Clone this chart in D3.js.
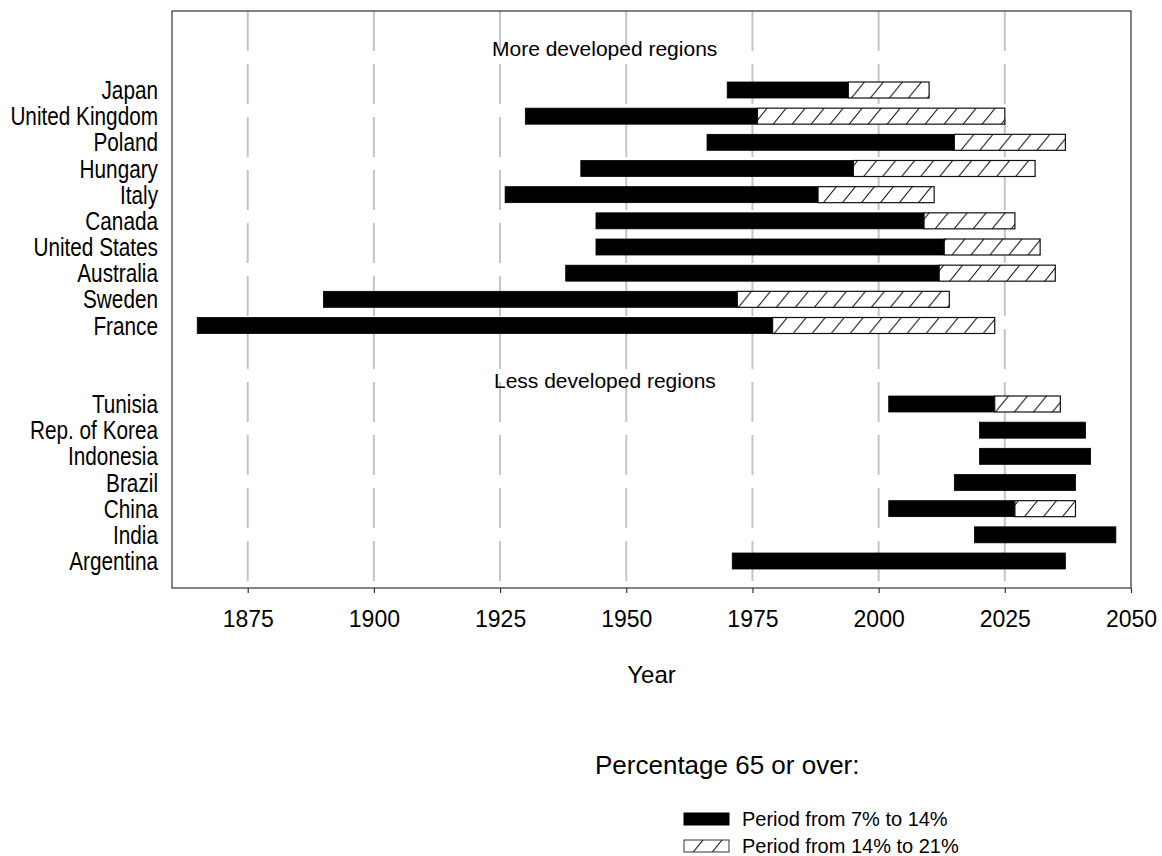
<!DOCTYPE html>
<html>
<head>
<meta charset="utf-8">
<script src="https://d3js.org/d3.v7.min.js"></script>
<style>
  body { margin: 0; background: #fff; }
  text { font-family: "Liberation Sans", Arial, sans-serif; fill: #000; }
</style>
</head>
<body>
<div id="chart"></div>
<script>
// countries, top to bottom
const moreDeveloped = ["Japan", "United Kingdom", "Poland", "Hungary", "Italy", "Canada",
    "United States", "Australia", "Sweden", "France"];
const lessDeveloped = ["Tunisia", "Rep. of Korea", "Indonesia", "Brazil", "China", "India", "Argentina"];

// year reaching 7%, 14%, 21% aged 65+ (null = not shown)
const moreYear7  = [1970, 1930, 1966, 1941, 1926, 1944, 1944, 1938, 1890, 1865];
const moreYear14 = [1994, 1976, 2015, 1995, 1988, 2009, 2013, 2012, 1972, 1979];
const moreYear21 = [2010, 2025, 2037, 2031, 2011, 2027, 2032, 2035, 2014, 2023];

const lessYear7  = [2002, 2020, 2020, 2015, 2002, 2019, 1971];
const lessYear14 = [2023, 2041, 2042, 2039, 2027, 2047, 2037];
const lessYear21 = [2036, null, null, null, 2039, null, null];

const tickYears = [1875, 1900, 1925, 1950, 1975, 2000, 2025, 2050];
const legendLabels = ["Period from 7% to 14%", "Period from 14% to 21%"];

const rows = moreDeveloped.map((c, i) => ({ country: c, y7: moreYear7[i], y14: moreYear14[i], y21: moreYear21[i] }))
    .concat(lessDeveloped.map((c, i) => ({ country: c, y7: lessYear7[i], y14: lessYear14[i], y21: lessYear21[i] })));

const W = 1162, H = 856;
const margin = { left: 172, right: 1131, top: 11, bottom: 588 };
const barH = 16;

const svg = d3.select("#chart").append("svg")
    .attr("width", W)
    .attr("height", H);

svg.append("rect").attr("width", W).attr("height", H).attr("fill", "#fff");

// hatch pattern for the 14-21% period
const defs = svg.append("defs");
const pat = defs.append("pattern")
    .attr("id", "hatch")
    .attr("patternUnits", "userSpaceOnUse")
    .attr("width", 19)
    .attr("height", 23.4);
pat.append("rect").attr("width", 19).attr("height", 23.4).attr("fill", "#fff");
pat.append("path")
    .attr("d", "M0,23.4 L19,0 M-2,2.46 L2,-2.46 M17,25.86 L21,20.94")
    .attr("stroke", "#000")
    .attr("stroke-width", 1);

const x = d3.scaleLinear()
    .domain([1860, 2050])
    .range([margin.left, margin.right]);

const y = d3.scalePoint()
    .domain(moreDeveloped.concat(["gap1", "gap2"], lessDeveloped))
    .range([90, 561]);

// dashed gridlines
svg.append("g").selectAll("line")
    .data(tickYears.filter(d => d < 2050))
    .enter()
    .append("line")
    .attr("x1", d => x(d))
    .attr("x2", d => x(d))
    .attr("y1", margin.top)
    .attr("y2", margin.bottom)
    .attr("stroke", "#c4c4c4")
    .attr("stroke-width", 2)
    .attr("stroke-dasharray", "40,13");

// frame
svg.append("rect")
    .attr("x", margin.left)
    .attr("y", margin.top)
    .attr("width", margin.right - margin.left)
    .attr("height", margin.bottom - margin.top)
    .attr("fill", "none")
    .attr("stroke", "#333")
    .attr("stroke-width", 1.2);

// x axis
const xAxis = svg.append("g")
    .attr("transform", `translate(0,${margin.bottom})`)
    .call(d3.axisBottom(x).tickValues(tickYears).tickFormat(d3.format("d")).tickSize(5).tickPadding(18));
xAxis.select(".domain").remove();
xAxis.selectAll("line").attr("stroke", "#333").attr("stroke-width", 1.2);
xAxis.selectAll("text")
    .style("font-family", "'Liberation Sans', Arial, sans-serif")
    .style("font-size", "23px")
    .attr("fill", "#000");

svg.append("text")
    .attr("x", (margin.left + margin.right) / 2)
    .attr("y", 683)
    .attr("text-anchor", "middle")
    .style("font-size", "24px")
    .text("Year");

// group headers
svg.append("text")
    .attr("x", 492)
    .attr("y", y("Japan") - 34)
    .style("font-size", "21px")
    .text("More developed regions");
svg.append("text")
    .attr("x", 494)
    .attr("y", y("Tunisia") - 16)
    .style("font-size", "21px")
    .text("Less developed regions");

// country labels (narrow, squeezed horizontally)
svg.append("g").selectAll("text")
    .data(rows)
    .enter()
    .append("text")
    .attr("transform", d => `translate(158,${y(d.country)}) scale(0.83,1)`)
    .attr("dy", "0.36em")
    .attr("text-anchor", "end")
    .style("font-size", "25px")
    .text(d => d.country);

// black bars: 7% to 14%
svg.append("g").selectAll("rect")
    .data(rows)
    .enter()
    .append("rect")
    .attr("x", d => x(d.y7))
    .attr("y", d => y(d.country) - barH / 2)
    .attr("width", d => x(d.y14) - x(d.y7))
    .attr("height", barH)
    .attr("fill", "#000")
    .attr("stroke", "#000")
    .attr("stroke-width", 0.8);

// hatched bars: 14% to 21%
svg.append("g").selectAll("rect")
    .data(rows.filter(d => d.y21 != null))
    .enter()
    .append("rect")
    .attr("x", d => x(d.y14))
    .attr("y", d => y(d.country) - barH / 2)
    .attr("width", d => x(d.y21) - x(d.y14))
    .attr("height", barH)
    .attr("fill", "url(#hatch)")
    .attr("stroke", "#111")
    .attr("stroke-width", 1.2);

// legend
svg.append("text")
    .attr("x", 595)
    .attr("y", 774)
    .style("font-size", "26px")
    .text("Percentage 65 or over:");

const legend = svg.append("g").selectAll("g")
    .data(legendLabels)
    .enter()
    .append("g")
    .attr("transform", (d, i) => `translate(684,${813 + i * 27})`);

legend.append("rect")
    .attr("width", 45)
    .attr("height", 12)
    .attr("fill", (d, i) => i === 0 ? "#000" : "url(#hatch)")
    .attr("stroke", (d, i) => i === 0 ? "#000" : "#333")
    .attr("stroke-width", 1);

legend.append("text")
    .attr("x", 58)
    .attr("y", 6)
    .attr("dy", "0.36em")
    .style("font-size", "20px")
    .text(d => d);
</script>
</body>
</html>
